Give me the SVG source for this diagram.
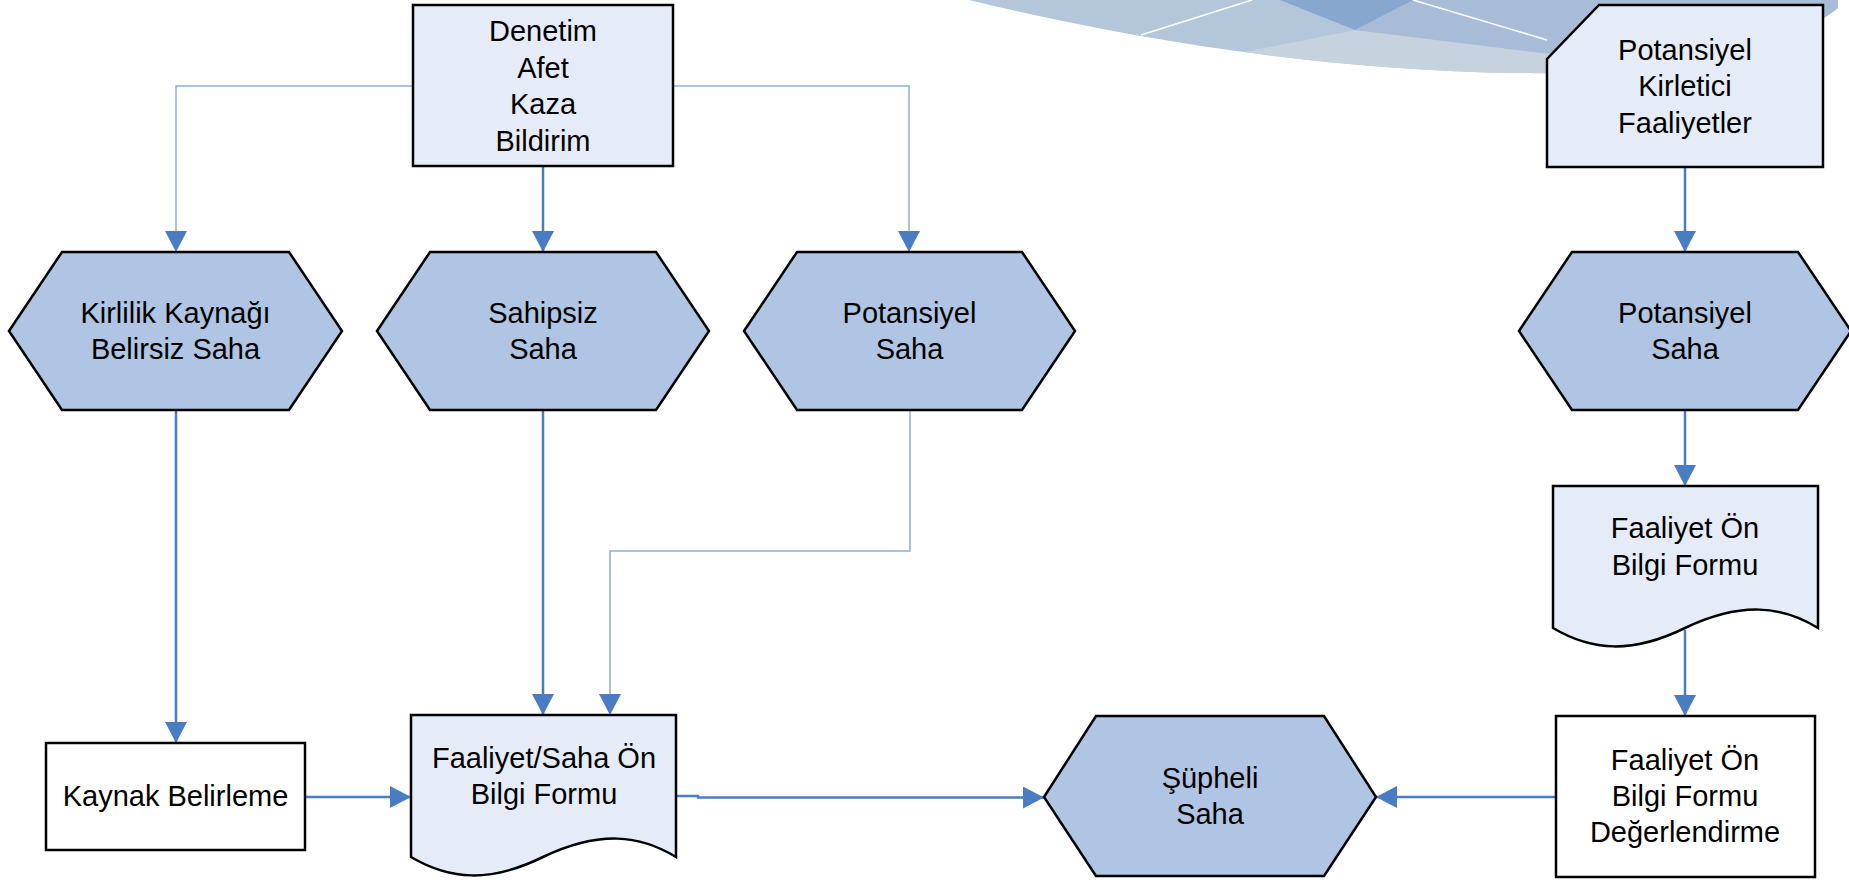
<svg xmlns="http://www.w3.org/2000/svg" width="1849" height="880" viewBox="0 0 1849 880">
<defs>
<marker id="ah" markerUnits="userSpaceOnUse" markerWidth="22" markerHeight="22" refX="21" refY="11" orient="auto">
<path d="M0,0 L21,11 L0,22 Z" fill="#4A7CC4"/>
</marker>
<clipPath id="sw"><path d="M969,0 C1100,32 1300,70 1520,73 C1650,75 1780,55 1838,8 L1838,0 Z"/></clipPath>
</defs>
<style>
.t{font-family:"Liberation Sans",Arial,sans-serif;font-size:29px;fill:#000;text-anchor:middle}
.box{stroke:#000;stroke-width:2.5;stroke-linejoin:miter}
.lt{fill:#E5ECF7}
.hx{fill:#AFC5E3}
.wh{fill:#FFFFFF}
.c{fill:none;stroke:#4A7CC4;stroke-width:2.5;marker-end:url(#ah)}
.ct{fill:none;stroke:#8DAEDB;stroke-width:1.5;marker-end:url(#ah)}
</style>
<rect width="1849" height="880" fill="#FFFFFF"/>
<g id="swoosh" clip-path="url(#sw)">
<rect x="960" y="0" width="890" height="90" fill="#B4C6DA"/>
<polygon points="1230,55 1355,30 1600,60 1600,100 1200,100" fill="#C6D3DF"/>
<polygon points="1355,30 1413,0 1850,0 1850,30 1700,80 1600,60" fill="#A8BCD8"/>
<polygon points="1280,0 1413,0 1355,30" fill="#88A7CF"/>
<line x1="1141" y1="35" x2="1252" y2="0" stroke="#FFFFFF" stroke-width="1.5"/>
<line x1="1413" y1="0" x2="1547" y2="40" stroke="#FFFFFF" stroke-width="1.5"/>
</g>
<g id="connectors">
<path class="c" d="M543,166 L543,252"/>
<path class="ct" d="M413,86 L176,86 L176,252"/>
<path class="ct" d="M673,86 L909,86 L909,252"/>
<path class="c" d="M176,410 L176,743"/>
<path class="c" d="M543,410 L543,715"/>
<path class="ct" d="M910,410 L910,551 L610,551 L610,715"/>
<path class="c" d="M305,797 L411,797"/>
<path class="c" d="M676,796 L698,796 L698,797.5 L1044,797.5"/>
<path class="c" d="M1685,167 L1685,252"/>
<path class="c" d="M1685,410 L1685,486"/>
<path class="c" d="M1685,630 L1685,716"/>
<path class="c" d="M1556,797 L1376,797"/>
</g>
<g id="denetim">
<rect class="box lt" x="413" y="5" width="260" height="161"/>
<text class="t" x="543" y="41">Denetim</text>
<text class="t" x="543" y="77.5">Afet</text>
<text class="t" x="543" y="114">Kaza</text>
<text class="t" x="543" y="150.5">Bildirim</text>
</g>
<g id="potansiyel-kirletici">
<path class="box lt" d="M1599,5 L1823,5 L1823,167 L1547,167 L1547,59 Z"/>
<text class="t" x="1685" y="59.5">Potansiyel</text>
<text class="t" x="1685" y="96">Kirletici</text>
<text class="t" x="1685" y="132.5">Faaliyetler</text>
</g>
<g id="hex-kirlilik">
<polygon class="box hx" points="9,331 62,252 289,252 342,331 289,410 62,410"/>
<text class="t" x="175.5" y="323">Kirlilik Kaynağı</text>
<text class="t" x="175.5" y="359">Belirsiz Saha</text>
</g>
<g id="hex-sahipsiz">
<polygon class="box hx" points="377,331 430,252 656,252 709,331 656,410 430,410"/>
<text class="t" x="543" y="323">Sahipsiz</text>
<text class="t" x="543" y="359">Saha</text>
</g>
<g id="hex-potansiyel">
<polygon class="box hx" points="744,331 797,252 1022,252 1075,331 1022,410 797,410"/>
<text class="t" x="909.5" y="323">Potansiyel</text>
<text class="t" x="909.5" y="359">Saha</text>
</g>
<g id="hex-potansiyel-2">
<polygon class="box hx" points="1519,331 1572,252 1798,252 1851,331 1798,410 1572,410"/>
<text class="t" x="1685" y="323">Potansiyel</text>
<text class="t" x="1685" y="359">Saha</text>
</g>
<g id="doc-faaliyet">
<path class="box lt" d="M1553,486 L1818,486 L1818,628 C1782,606 1742,601 1685,628 C1632,654 1592,651 1553,628 Z"/>
<text class="t" x="1685" y="538">Faaliyet Ön</text>
<text class="t" x="1685" y="575">Bilgi Formu</text>
</g>
<g id="degerlendirme">
<rect class="box wh" x="1556" y="716" width="259" height="161"/>
<text class="t" x="1685" y="770">Faaliyet Ön</text>
<text class="t" x="1685" y="806">Bilgi Formu</text>
<text class="t" x="1685" y="842">Değerlendirme</text>
</g>
<g id="kaynak">
<rect class="box wh" x="46" y="743" width="259" height="107"/>
<text class="t" x="175.5" y="806">Kaynak Belirleme</text>
</g>
<g id="doc-faaliyet-saha">
<path class="box lt" d="M411,715 L676,715 L676,857 C640,835 600,830 543,857 C490,883 450,880 411,857 Z"/>
<text class="t" x="544" y="768">Faaliyet/Saha Ön</text>
<text class="t" x="544" y="803.5">Bilgi Formu</text>
</g>
<g id="hex-supheli">
<polygon class="box hx" points="1044,797 1096,716 1324,716 1376,797 1324,876 1096,876"/>
<text class="t" x="1210" y="788">Şüpheli</text>
<text class="t" x="1210" y="824">Saha</text>
</g>
</svg>
